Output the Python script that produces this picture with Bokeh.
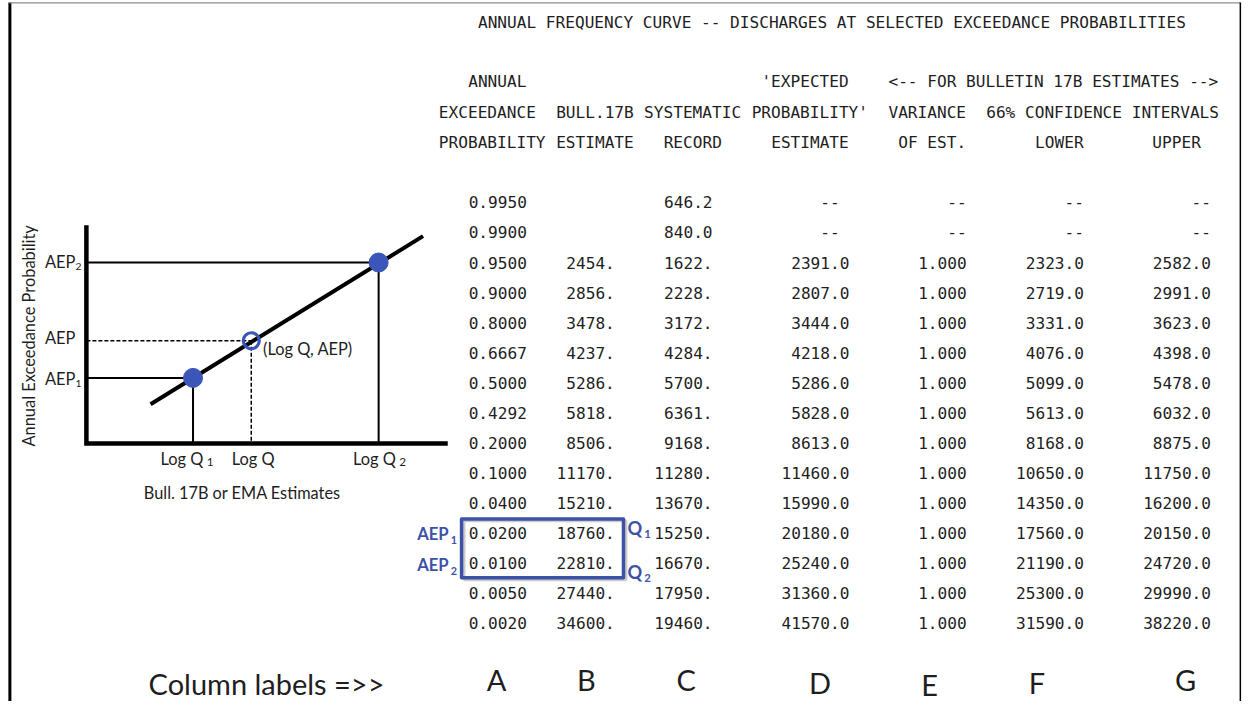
import math
from bokeh.plotting import figure
from bokeh.models import Range1d, ColumnDataSource
from bokeh.core.properties import value
from bokeh.embed import file_html
from bokeh.resources import INLINE

# ---------------- DATA ----------------
aep = [0.9950, 0.9900, 0.9500, 0.9000, 0.8000, 0.6667, 0.5000, 0.4292,
       0.2000, 0.1000, 0.0400, 0.0200, 0.0100, 0.0050, 0.0020]
bull17b = [None, None, 2454, 2856, 3478, 4237, 5286, 5818, 8506, 11170,
           15210, 18760, 22810, 27440, 34600]
systematic = [646.2, 840.0, 1622, 2228, 3172, 4284, 5700, 6361, 9168, 11280,
              13670, 15250, 16670, 17950, 19460]
expected = [None, None, 2391.0, 2807.0, 3444.0, 4218.0, 5286.0, 5828.0, 8613.0,
            11460.0, 15990.0, 20180.0, 25240.0, 31360.0, 41570.0]
variance = [None, None] + [1.000] * 13
ci_lower = [None, None, 2323.0, 2719.0, 3331.0, 4076.0, 5099.0, 5613.0, 8168.0,
            10650.0, 14350.0, 17560.0, 21190.0, 25300.0, 31590.0]
ci_upper = [None, None, 2582.0, 2991.0, 3623.0, 4398.0, 5478.0, 6032.0, 8875.0,
            11750.0, 16200.0, 20150.0, 24720.0, 29990.0, 38220.0]

title = "ANNUAL FREQUENCY CURVE -- DISCHARGES AT SELECTED EXCEEDANCE PROBABILITIES"
header_rows = [
    [(3, "ANNUAL"), (33, "'EXPECTED"), (46, "<-- FOR BULLETIN 17B ESTIMATES -->")],
    [(0, "EXCEEDANCE"), (12, "BULL.17B"), (21, "SYSTEMATIC"), (32, "PROBABILITY'"),
     (46, "VARIANCE"), (56, "66% CONFIDENCE INTERVALS")],
    [(0, "PROBABILITY"), (12, "ESTIMATE"), (23, "RECORD"), (34, "ESTIMATE"),
     (47, "OF EST."), (61, "LOWER"), (73, "UPPER")],
]
column_letters = ["A", "B", "C", "D", "E", "F", "G"]

# schematic diagram (conceptual units: log Q across, AEP up)
schem_logq = [108, 167, 296]          # Log Q1, Log Q, Log Q2
schem_aep = [67, 105, 185]            # AEP1, AEP, AEP2
curve_logq = [65, 341]
curve_aep = [40, 212]
axis_len_logq = 366
axis_len_aep = 223

# ---------------- LAYOUT ----------------
RW, RH = 1259, 717          # drawing units
W, H = 1243, 701            # figure pixels
S = (W / RW + H / RH) / 2   # size scale

def px(v):
    return "%.2fpx" % (v * S)

p = figure(width=W, height=H, x_range=Range1d(0, RW), y_range=Range1d(RH, 0),
           output_backend="svg", toolbar_location=None, min_border=0,
           x_axis_location=None, y_axis_location=None)
p.grid.visible = False
p.outline_line_color = None
p.background_fill_color = "white"
p.border_fill_color = "white"

MONO = value("DejaVu Sans Mono")
SANS = value("Lato")
MSIZE = px(16.4)
TXT = "#1e1e1e"
BLUE = "#3D52A6"
DOT = "#3B55B8"

X0 = 444.0      # column 0 of the monospaced listing
PITCH = 9.9
row_y0, row_dy = 206.5, 30.75

def cx(col):
    return X0 + col * PITCH

# borders
p.segment(x0=[9.5], y0=[2], x1=[9.5], y1=[720], line_color="black", line_width=3)
p.segment(x0=[9], y0=[2.5], x1=[1256], y1=[2.5], line_color="#8c8c8c", line_width=1.2)
p.segment(x0=[1255.8], y0=[2], x1=[1255.8], y1=[720], line_color="black", line_width=1.5)

# title + header
p.text(x=[cx(4)], y=[22], text=[title], text_font=MONO, text_font_size=MSIZE,
       text_align="left", text_baseline="middle", text_color=TXT)
for hy, segs in zip([83, 114.5, 145], header_rows):
    p.text(x=[cx(c) for c, _ in segs], y=[hy] * len(segs), text=[s for _, s in segs],
           text_font=MONO, text_font_size=MSIZE, text_align="left",
           text_baseline="middle", text_color=TXT)

# table body
def fmt_sys(v):
    return "%.1f" % v if v < 1000 else "%d." % v

cols = [
    (aep, lambda v: "%.4f" % v, 9, 9),
    (bull17b, lambda v: "%d." % v, 18, None),
    (systematic, fmt_sys, 28, None),
    (expected, lambda v: "%.1f" % v, 42, 41),
    (variance, lambda v: "%.3f" % v, 54, 54),
    (ci_lower, lambda v: "%.1f" % v, 66, 66),
    (ci_upper, lambda v: "%.1f" % v, 79, 79),
]
for vals, f, rcol, dashcol in cols:
    xs, ys, ts = [], [], []
    for i, v in enumerate(vals):
        y = row_y0 + i * row_dy
        if v is None:
            if dashcol is None:
                continue
            xs.append(cx(dashcol)); ys.append(y); ts.append("--")
        else:
            xs.append(cx(rcol)); ys.append(y); ts.append(f(v))
    src = ColumnDataSource(dict(x=xs, y=ys, t=ts))
    p.text(x="x", y="y", text="t", source=src, text_font=MONO, text_font_size=MSIZE,
           text_align="right", text_baseline="middle", text_color=TXT)

# blue box around AEP1/AEP2 rows
i1 = aep.index(0.02); i2 = aep.index(0.01)
bt = row_y0 + i1 * row_dy - 14.5
bb = row_y0 + i2 * row_dy + 15
p.quad(left=[469.5], right=[633.5], top=[bt + 2], bottom=[bb + 2], fill_color=None,
       line_color="#9a9a9a", line_alpha=0.5, line_width=3)
p.quad(left=[467], right=[631], top=[bt], bottom=[bb], fill_color=None,
       line_color=BLUE, line_width=3.5, line_join="round")

def sub_label(x, y, main, sub, size, subsize, color, bold=False, dx=0, dy=5):
    style = "bold" if bold else "normal"
    p.text(x=[x], y=[y], text=[main], text_font=SANS, text_font_size=px(size),
           text_font_style=style, text_color=color, text_align="left", text_baseline="middle")
    p.text(x=[x + dx], y=[y + dy], text=[sub], text_font=SANS, text_font_size=px(subsize),
           text_font_style=style, text_color=color, text_align="left", text_baseline="middle")

y1 = row_y0 + i1 * row_dy
y2 = row_y0 + i2 * row_dy
sub_label(422, y1 + 1, "AEP", "1", 17, 11, BLUE, True, dx=34, dy=6)
sub_label(422, y2 + 2, "AEP", "2", 17, 11, BLUE, True, dx=34, dy=6)
sub_label(635, y1 - 5, "Q", "1", 18.5, 11.5, BLUE, True, dx=17, dy=6)
sub_label(635, y2 + 9, "Q", "2", 18.5, 11.5, BLUE, True, dx=17, dy=6)

# ---------------- schematic diagram ----------------
DX0, DY0 = 87.0, 453.0
def dx(u):
    return DX0 + u
def dy(v):
    return DY0 - v

sx = [dx(u) for u in schem_logq]
sy = [dy(v) for v in schem_aep]

# guide lines
p.segment(x0=[DX0, DX0], y0=[sy[0], sy[2]], x1=[sx[0], sx[2]], y1=[sy[0], sy[2]],
          line_color="black", line_width=2)
p.segment(x0=[sx[0], sx[2]], y0=[sy[0], sy[2]], x1=[sx[0], sx[2]], y1=[DY0, DY0],
          line_color="black", line_width=2)
p.segment(x0=[DX0, sx[1]], y0=[sy[1], sy[1]], x1=[sx[1], sx[1]], y1=[sy[1], DY0],
          line_color="black", line_width=1.5, line_dash="4 2")

# axes
p.line(x=[dx(0), dx(0), dx(axis_len_logq)], y=[dy(axis_len_aep), dy(0), dy(0)],
       line_color="black", line_width=4.5, line_join="miter")
# curve
p.line(x=[dx(u) for u in curve_logq], y=[dy(v) for v in curve_aep],
       line_color="black", line_width=4)
# points
p.scatter(x=[sx[0], sx[2]], y=[sy[0], sy[2]], size=19, fill_color=DOT, line_color=DOT)
p.scatter(x=[sx[1]], y=[sy[1]], size=16, fill_color=None, line_color=DOT, line_width=3.2)

LS = 16.7
p.text(x=[28], y=[343], text=["Annual Exceedance Probability"], angle=math.pi / 2,
       text_font=SANS, text_font_size=px(LS), text_color=TXT, text_align="center",
       text_baseline="middle")
sub_label(45, sy[2] - 1, "AEP", "2", LS, 10.5, TXT, dx=31, dy=5)
p.text(x=[45], y=[sy[1] - 3], text=["AEP"], text_font=SANS, text_font_size=px(LS),
       text_color=TXT, text_align="left", text_baseline="middle")
sub_label(45, sy[0] + 1, "AEP", "1", LS, 10.5, TXT, dx=31, dy=5)

p.text(x=[sx[1] + 12], y=[sy[1] + 8], text=["(Log Q, AEP)"], text_font=SANS,
       text_font_size=px(LS), text_color=TXT, text_align="left", text_baseline="middle")

sub_label(sx[0] - 33, 468, "Log Q", "1", LS, 12, TXT, dx=47, dy=4)
p.text(x=[sx[1] + 2], y=[468], text=["Log Q"], text_font=SANS, text_font_size=px(LS),
       text_color=TXT, text_align="center", text_baseline="middle")
sub_label(sx[2] - 26, 468, "Log Q", "2", LS, 12, TXT, dx=47, dy=4)

p.text(x=[245], y=[503], text=["Bull. 17B or EMA Estimates"], text_font=SANS,
       text_font_size=px(16.6), text_color=TXT, text_align="center", text_baseline="middle")

# ---------------- column labels ----------------
p.text(x=[150], y=[699], text=["Column labels  =>>"], text_font=SANS,
       text_font_size=px(29.5), text_color=TXT, text_align="left", text_baseline="middle")
letter_x = [cx(5.9), cx(15.1), cx(25.3), cx(39), cx(50.2), cx(61.2), cx(76.4)]
letter_y = [695, 695, 695, 698, 700, 698, 695]
p.text(x=letter_x, y=letter_y, text=column_letters, text_font=SANS, text_font_size=px(29.5),
       text_color=TXT, text_align="center", text_baseline="middle")

open("out.html", "w").write(file_html(p, INLINE))
